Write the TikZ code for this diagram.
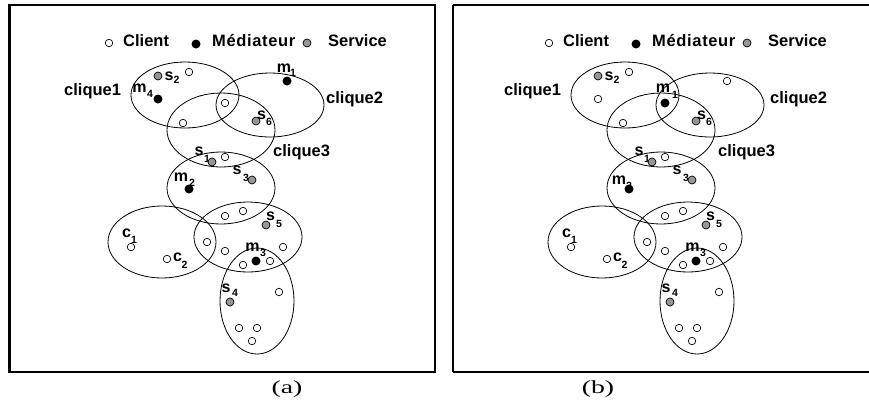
\documentclass[tikz,border=0pt]{standalone}
\usepackage{fontspec}
\usepackage{graphicx}
\setmainfont{Liberation Serif}
\setsansfont{Liberation Sans}
\usetikzlibrary{shapes.geometric}
\definecolor{srvgray}{RGB}{150,150,150}
\tikzset{
  frame/.style={line width=2.6pt},
  clq/.style={ellipse, draw, line width=0.8pt, inner sep=0pt},
  cl/.style={circle, draw, fill=white, minimum size=7.5pt, inner sep=0pt, line width=0.7pt},
  md/.style={circle, fill=black, minimum size=9pt, inner sep=0pt},
  sv/.style={circle, draw, fill=srvgray, minimum size=8pt, inner sep=0pt, line width=0.7pt},
  lt/.style={font=\sffamily\bfseries\fontsize{16}{16}\selectfont, inner sep=0pt},
  sb/.style={font=\sffamily\bfseries\fontsize{10.5}{11}\selectfont, inner sep=0pt},
  txt/.style={font=\sffamily\bfseries\fontsize{16.5}{17}\selectfont, inner sep=0pt, anchor=base west},
  captxt/.style={font=\fontsize{18.5}{19}\selectfont, inner sep=0pt, anchor=base}
}
% shared elements of one panel; #1 = name prefix
\newcommand\panelcommon[1]{%
  % legend
  \node[cl] (#1lc) at (109,43) {};
  \node[md] (#1lm) at (196,44) {};
  \node[sv] (#1ls) at (307,43) {};
  \node[txt] (#1tc) at (123,46.5) {Client};
  \node[txt] (#1tm) at (212,46.5) {\addfontfeatures{LetterSpace=4}Médiateur};
  \node[txt] (#1ts) at (328,46.5) {Service};
  % cliques
  \node[clq, minimum width=108pt, minimum height=66pt] (#1e1) at (185,95) {};
  \node[clq, minimum width=108pt, minimum height=64pt] (#1e2) at (270,105) {};
  \node[clq, minimum width=108pt, minimum height=74pt] (#1e3) at (221,130) {};
  \node[clq, minimum width=108pt, minimum height=72pt] (#1e4) at (221,188) {};
  \node[clq, minimum width=108pt, minimum height=72pt] (#1e5) at (162,242) {};
  \node[clq, minimum width=108pt, minimum height=70pt] (#1e6) at (248,237) {};
  \node[clq, minimum width=74pt, minimum height=106pt] (#1e7) at (257,301) {};
  \node[txt] (#1q1) at (64,95.5) {clique1};
  % s2
  \node[sv] (#1s2) at (158,76) {};
  \node[lt] (#1s2l) at (169,76) {s};
  \node[sb] (#1s2s) at (176.5,80) {2};
  \node[cl] (#1w1) at (189,72) {};
  % upper middle
  \node[cl] (#1w2) at (183,123) {};
  \node[sv] (#1s6) at (256,121) {};
  \node[lt] (#1s6l) at (261.5,115) {s};
  \node[sb] (#1s6s) at (269,122) {6};
  % s1, s3
  \node[lt] (#1s1l) at (199,151) {s};
  \node[sb] (#1s1s) at (207,159) {1};
  \node[sv] (#1s1) at (212,162) {};
  \node[cl] (#1w3) at (225,157) {};
  \node[lt] (#1s3l) at (237,170) {s};
  \node[sb] (#1s3s) at (246,178) {3};
  \node[sv] (#1s3) at (252,180) {};
  % right cluster
  \node[cl] (#1w4) at (225,216) {};
  \node[cl] (#1w5) at (243,211) {};
  \node[lt] (#1s5l) at (270.5,216) {s};
  \node[sb] (#1s5s) at (279,224) {5};
  \node[sv] (#1s5) at (266,225) {};
  % c1, c2
  \node[lt] (#1c1l) at (126.5,233) {c};
  \node[sb] (#1c1s) at (134,240) {1};
  \node[cl] (#1c1) at (131,247) {};
  \node[cl] (#1c2) at (167,259) {};
  \node[lt] (#1c2l) at (177.5,257) {c};
  \node[sb] (#1c2s) at (184.5,265) {2};
  \node[cl] (#1w6) at (207,242) {};
  \node[cl] (#1w7) at (225,251) {};
  \node[cl] (#1w8) at (283,247) {};
  % m3
  \node[lt] (#1m3l) at (252.5,247) {m};
  \node[sb] (#1m3s) at (263,253) {3};
  \node[md] (#1m3) at (256,261) {};
  \node[cl] (#1w9) at (270,261) {};
  \node[cl] (#1w10) at (243,265) {};
  % s4 cluster
  \node[lt] (#1s4l) at (226,288) {s};
  \node[sb] (#1s4s) at (235,293) {4};
  \node[sv] (#1s4) at (230,302) {};
  \node[cl] (#1w11) at (279,292) {};
  \node[cl] (#1w12) at (239,328) {};
  \node[cl] (#1w13) at (257,328) {};
  \node[cl] (#1w14) at (252,341) {};
}
\begin{document}
\begin{tikzpicture}[x=1pt,y=-1pt]
\useasboundingbox (0,0) rectangle (869,405);
% panel (a)
\draw[frame] (9.5,5) rectangle (435,372);
\begin{scope}
  \panelcommon{a}
  \node[txt] (aq2) at (326,103) {clique2};
  \node[txt] (aq3) at (273,156.5) {clique3};
  \node[lt] (am4l) at (139.5,88) {m};
  \node[sb] (am4s) at (150,94) {4};
  \node[md] (am4) at (158,99) {};
  \node[lt] (am1l) at (284,68) {m};
  \node[sb] (am1s) at (293,73) {1};
  \node[md] (am1) at (287,81) {};
  \node[cl] (aw0) at (225,103) {};
  \node[lt] (am2l) at (181,177) {m};
  \node[sb] (am2s) at (192,183) {2};
  \node[md] (am2) at (189,189) {};
\end{scope}
\node[captxt] (capa) at (287,393) {\scalebox{1.5}[1]{(a)}};
% panel (b)
\draw[frame] (453,5) -- (453,372) (453,5) -- (875,5) (453,372) -- (875,372);
\begin{scope}[xshift=440pt]
  \panelcommon{b}
  \node[txt] (bq2) at (330,103) {clique2};
  \node[txt] (bq3) at (278,156.5) {clique3};
  \node[cl] (bw0) at (158,99) {};
  \node[cl] (bw00) at (287,81) {};
  \node[lt] (bm1l) at (223,88) {m};
  \node[sb] (bm1s) at (235,95) {1};
  \node[md] (bm1) at (225,103) {};
  \node[lt] (bm2l) at (179,180) {m};
  \node[sb] (bm2s) at (189,186) {2};
  \node[md] (bm2) at (189,189) {};
\end{scope}
\node[captxt] (capb) at (598,393) {\scalebox{1.5}[1]{(b)}};
\end{tikzpicture}
\end{document}
